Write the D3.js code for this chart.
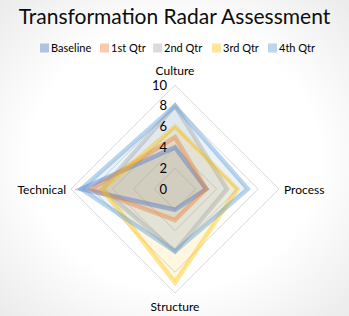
<!DOCTYPE html>
<html>
<head>
<meta charset="utf-8">
<script src="https://d3js.org/d3.v7.min.js"></script>
<style>
  body { margin: 0; }
  svg { display: block; font-family: Lato, "Open Sans", sans-serif; }
</style>
</head>
<body>
<svg id="chart"></svg>
<script>
    // data
    var axes = ["Culture", "Process", "Structure", "Technical"];
    var seriesNames = ["Baseline", "1st Qtr", "2nd Qtr", "3rd Qtr", "4th Qtr"];
    var baseline = [4, 3, 2, 9];
    var qtr1 = [5, 3, 3, 8];
    var qtr2 = [8, 5, 6, 7];
    var qtr3 = [6, 6, 9, 7];
    var qtr4 = [8, 7, 6, 9];
    var ticks = [0, 2, 4, 6, 8, 10];
    var colors = ["#4472C4", "#ED7D31", "#A5A5A5", "#FFC000", "#5B9BD5"];

    var allSeries = [baseline, qtr1, qtr2, qtr3, qtr4];

    var width = 349, height = 316;
    var cx = 175, cy = 189;

    var svg = d3.select("#chart")
        .attr("width", width)
        .attr("height", height);

    // soft background like the original
    var defs = svg.append("defs");
    var grad = defs.append("radialGradient")
        .attr("id", "bg")
        .attr("cx", "50%").attr("cy", "50%").attr("r", "75%");
    grad.append("stop").attr("offset", "55%").attr("stop-color", "#ffffff");
    grad.append("stop").attr("offset", "100%").attr("stop-color", "#e8e8e8");
    svg.append("rect")
        .attr("width", width).attr("height", height)
        .attr("fill", "url(#bg)");

    var r = d3.scaleLinear().domain([0, 10]).range([0, 104]);
    var angle = d3.scalePoint().domain(axes).range([0, 2 * Math.PI * 3 / 4]);

    var line = d3.lineRadial()
        .angle(function (d, i) { return angle(axes[i]); })
        .radius(function (d) { return r(d); })
        .curve(d3.curveLinearClosed);

    var g = svg.append("g").attr("transform", "translate(" + cx + "," + cy + ")");

    // grid diamonds
    g.append("g")
        .selectAll("path")
        .data(ticks.filter(function (t) { return t > 0; }))
        .join("path")
        .attr("d", function (t) { return line(axes.map(function () { return t; })); })
        .attr("fill", "none")
        .style("stroke", "#d9d9d9")
        .style("stroke-width", 1);

    // series
    var sg = g.append("g");
    sg.selectAll("path.fill")
        .data(allSeries)
        .join("path")
        .attr("class", "fill")
        .attr("d", line)
        .attr("fill", function (d, i) { return colors[i]; })
        .attr("fill-opacity", 0.12)
        .attr("stroke", "none");
    sg.selectAll("path.edge")
        .data(allSeries)
        .join("path")
        .attr("class", "edge")
        .attr("d", line)
        .attr("fill", "none")
        .attr("stroke", function (d, i) { return colors[i]; })
        .attr("stroke-opacity", 0.42)
        .attr("stroke-width", 4.5)
        .attr("stroke-linejoin", "miter");

    // tick labels
    g.append("g")
        .selectAll("text")
        .data(ticks)
        .join("text")
        .attr("x", -8)
        .attr("y", function (t) { return -r(t); })
        .attr("dy", "0.35em")
        .attr("text-anchor", "end")
        .style("font-size", "13px")
        .style("fill", "#000")
        .text(function (t) { return t; });

    // axis labels
    var labelPos = {
        "Culture": { x: 0, y: -118, anchor: "middle" },
        "Process": { x: 109, y: 1, anchor: "start" },
        "Structure": { x: 0, y: 118, anchor: "middle" },
        "Technical": { x: -109, y: 1, anchor: "end" }
    };
    g.append("g")
        .selectAll("text")
        .data(axes)
        .join("text")
        .attr("x", function (d) { return labelPos[d].x; })
        .attr("y", function (d) { return labelPos[d].y; })
        .attr("dy", "0.35em")
        .attr("text-anchor", function (d) { return labelPos[d].anchor; })
        .style("font-size", "12px")
        .style("fill", "#000")
        .text(function (d) { return d; });

    // title
    svg.append("text")
        .attr("x", width / 2)
        .attr("y", 24)
        .attr("text-anchor", "middle")
        .style("font-size", "21px")
        .style("fill", "#0d0d0d")
        .text("Transformation Radar Assessment");

    // legend
    var legendX = [40, 100, 153, 212, 268];
    var lg = svg.append("g").selectAll("g")
        .data(seriesNames)
        .join("g")
        .attr("transform", function (d, i) { return "translate(" + legendX[i] + ",48)"; });
    lg.append("rect")
        .attr("x", 0).attr("y", -4.5)
        .attr("width", 9).attr("height", 9)
        .attr("fill", function (d, i) { return colors[i]; })
        .attr("fill-opacity", 0.4);
    lg.append("text")
        .attr("x", 11)
        .attr("dy", "0.35em")
        .style("font-size", "11px")
        .style("fill", "#000")
        .text(function (d) { return d; });
</script>
</body>
</html>
